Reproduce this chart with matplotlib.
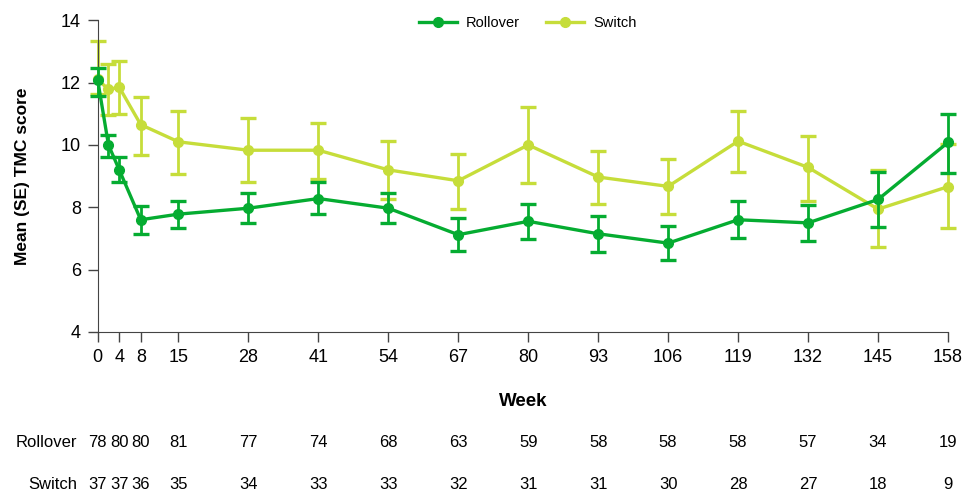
import matplotlib
matplotlib.use('Agg')
from matplotlib import pyplot as plt
from matplotlib.lines import Line2D

weeks = [0, 2, 4, 8, 15, 28, 41, 54, 67, 80, 93, 106, 119, 132, 145, 158]

rollover_mean = [12.08, 10.0, 9.2, 7.6, 7.78, 7.97, 8.28, 7.97, 7.12, 7.55, 7.15, 6.85, 7.6, 7.5, 8.25, 10.08]
rollover_low = [11.56, 9.6, 8.8, 7.15, 7.35, 7.5, 7.77, 7.5, 6.6, 6.97, 6.58, 6.3, 7.0, 6.92, 7.36, 9.1]
rollover_high = [12.47, 10.33, 9.6, 8.05, 8.2, 8.45, 8.82, 8.45, 7.65, 8.12, 7.73, 7.4, 8.2, 8.07, 9.14, 10.98]

switch_mean = [12.1, 11.78, 11.85, 10.65, 10.1, 9.83, 9.83, 9.2, 8.85, 10.0, 8.97, 8.67, 10.12, 9.28, 7.94, 8.66]
switch_low = [11.62, 10.95, 11.0, 9.67, 9.06, 8.8, 8.92, 8.25, 7.95, 8.78, 8.1, 7.8, 9.12, 8.21, 6.72, 7.33]
switch_high = [13.32, 12.58, 12.7, 11.55, 11.1, 10.85, 10.7, 10.12, 9.72, 11.22, 9.82, 9.55, 11.1, 10.28, 9.19, 10.03]

tick_weeks = [0, 4, 8, 15, 28, 41, 54, 67, 80, 93, 106, 119, 132, 145, 158]
rollover_n = [78, 80, 80, 81, 77, 74, 68, 63, 59, 58, 58, 58, 57, 34, 19]
switch_n = [37, 37, 36, 35, 34, 33, 33, 32, 31, 31, 30, 28, 27, 18, 9]

green = '#05AC31'
lime = '#C6DD3A'

plt.rcParams['font.family'] = ['Liberation Sans', 'DejaVu Sans']

fig = plt.figure(figsize=(9.78, 4.93), dpi=100)
ax = fig.add_axes([0.0999, 0.3266, 0.8694, 0.6324])


def err(mean, low, high):
    return [[m - l for m, l in zip(mean, low)], [h - m for m, h in zip(mean, high)]]


ax.errorbar(weeks, switch_mean, yerr=err(switch_mean, switch_low, switch_high), color=lime, lw=2.4,
            marker='o', ms=7, elinewidth=2, capsize=5.5, capthick=2.4, clip_on=False, zorder=2)
ax.errorbar(weeks, rollover_mean, yerr=err(rollover_mean, rollover_low, rollover_high), color=green, lw=2.4,
            marker='o', ms=7, elinewidth=2, capsize=5.5, capthick=2.4, clip_on=False, zorder=3)

ax.set_xlim(0, 158)
ax.set_ylim(4, 14)
ax.set_xticks(tick_weeks)
ax.set_yticks([4, 6, 8, 10, 12, 14])
ax.tick_params(axis='both', labelsize=13, length=7, width=1, color='#444444', pad=5)
for s in ['top', 'right']:
    ax.spines[s].set_visible(False)
for s in ['left', 'bottom']:
    ax.spines[s].set_color('#444444')

ax.set_ylabel('Mean (SE) TMC score', fontsize=12.5, fontweight='bold')
ax.yaxis.set_label_coords(-0.080, 0.5)
ax.text(0.5, -0.222, 'Week', transform=ax.transAxes, ha='center', va='center',
        fontsize=13.5, fontweight='bold')

handles = [Line2D([], [], color=green, lw=2.4, marker='o', ms=7),
           Line2D([], [], color=lime, lw=2.4, marker='o', ms=7)]
ax.legend(handles, ['Rollover', 'Switch'], loc='center', bbox_to_anchor=(0.506, 0.99), ncol=2,
          frameon=False, fontsize=10.5, handlelength=2.6, columnspacing=1.8, handletextpad=0.65)

trans = ax.get_xaxis_transform()
ax.text(-0.024, -0.356, 'Rollover', transform=ax.transAxes, ha='right', va='center', fontsize=12)
ax.text(-0.024, -0.490, 'Switch', transform=ax.transAxes, ha='right', va='center', fontsize=12)
for w, rn, sn in zip(tick_weeks, rollover_n, switch_n):
    ax.text(w, -0.356, str(rn), transform=trans, ha='center', va='center', fontsize=12)
    ax.text(w, -0.490, str(sn), transform=trans, ha='center', va='center', fontsize=12)

fig.savefig('out.png', dpi=100)
